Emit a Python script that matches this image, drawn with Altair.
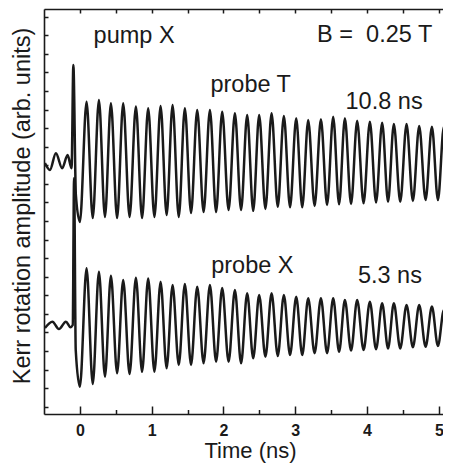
import altair as alt
import pandas as pd

# ---------------- data ----------------
# times (ns) of the oscillation maxima and minima (shared by both traces)
peak_t = [0.093, 0.265, 0.432, 0.603, 0.780, 0.951, 1.124, 1.291, 1.462, 1.634,
          1.811, 1.982, 2.159, 2.330, 2.497, 2.670, 2.841, 3.013, 3.180, 3.357,
          3.528, 3.691, 3.862, 4.039, 4.210, 4.373, 4.550, 4.726, 4.903, 5.070]
trough_t = [0.000, 0.179, 0.349, 0.518, 0.692, 0.866, 1.038, 1.208, 1.377, 1.548,
            1.723, 1.897, 2.071, 2.245, 2.414, 2.584, 2.756, 2.927, 3.097, 3.269,
            3.443, 3.610, 3.777, 3.951, 4.125, 4.292, 4.462, 4.638, 4.815, 4.987, 5.157]

# probe T trace (upper), arb. units
probeT_pre_t = [-0.487, -0.418, -0.334, -0.247, -0.171, -0.116, -0.091, -0.056]
probeT_pre_v = [13.12, 12.75, 13.65, 12.84, 13.55, 12.84, 18.40, 11.40]
probeT_peaks = [16.42, 16.52, 16.34, 16.34, 16.16, 16.07, 16.19, 16.25, 16.07, 15.98,
                15.98, 15.89, 15.80, 15.71, 15.71, 15.80, 15.65, 15.53, 15.44, 15.48,
                15.62, 15.53, 15.40, 15.35, 15.29, 15.22, 15.22, 15.12, 15.08, 15.08]
probeT_troughs = [9.95, 10.16, 10.22, 10.16, 10.22, 10.16, 10.22, 10.32, 10.22, 10.43,
                  10.48, 10.48, 10.59, 10.59, 10.55, 10.65, 10.77, 10.74, 10.74, 10.81,
                  10.86, 10.90, 10.92, 10.95, 10.99, 11.04, 11.04, 11.08, 11.13, 11.13, 11.13]

# probe X trace (lower), arb. units
probeX_pre_t = [-0.487, -0.383, -0.292, -0.195, -0.132, -0.100, -0.081, -0.058]
probeX_pre_v = [4.24, 4.58, 4.18, 4.58, 4.28, 4.40, 12.32, 3.05]
probeX_peaks = [7.45, 7.27, 7.05, 6.82, 6.95, 6.91, 6.73, 6.55, 6.61, 6.46,
                6.55, 6.39, 6.28, 6.11, 6.02, 6.11, 6.02, 5.92, 5.84, 5.84,
                5.84, 5.75, 5.75, 5.65, 5.57, 5.57, 5.48, 5.48, 5.39, 5.21]
probeX_troughs = [1.08, 1.22, 1.62, 1.80, 1.76, 1.88, 1.88, 2.07, 2.25, 2.25,
                  2.34, 2.42, 2.42, 2.34, 2.61, 2.69, 2.73, 2.78, 2.78, 2.88,
                  2.88, 2.96, 3.02, 3.05, 3.09, 3.14, 3.14, 3.20, 3.23, 3.27, 3.32]

# annotations
ann_text = ["pump X", "B =\u00a0 0.25 T", "probe T", "10.8 ns", "probe X", "5.3 ns"]
ann_t = [0.755, 4.106, 2.379, 4.237, 2.402, 4.318]
ann_v = [19.57, 19.66, 16.96, 16.01, 7.22, 6.65]

x_ticks = [0, 1, 2, 3, 4, 5]
x_minor = [0.5, 1.5, 2.5, 3.5, 4.5]
x_top = [0, 0.5, 1, 1.5, 2, 2.5, 3, 3.5, 4, 4.5, 5]
y_ticks = list(range(22))
x_domain = [-0.5, 5.169]
y_domain = [-0.393, 21.417]

# ---------------- build tables ----------------
def trace(pre_t, pre_v, peaks, troughs):
    rows = (list(zip(pre_t, pre_v)) + list(zip(peak_t, peaks))
            + list(zip(trough_t, troughs)))
    return pd.DataFrame(rows, columns=["t", "v"]).sort_values("t")

dfT = trace(probeT_pre_t, probeT_pre_v, probeT_peaks, probeT_troughs)
dfX = trace(probeX_pre_t, probeX_pre_v, probeX_peaks, probeX_troughs)
ann = pd.DataFrame({"t": ann_t, "v": ann_v, "label": ann_text})

W, H = 407, 405
FONT = "Liberation Sans"
INK = "#1a1a1a"

xs = alt.Scale(domain=x_domain, nice=False, zero=False)
ys = alt.Scale(domain=y_domain, nice=False, zero=False)

common = dict(grid=False, tickColor=INK, tickWidth=1.5, domainColor=INK, domainWidth=1.6)

ax_bottom = alt.Axis(orient="bottom", values=x_ticks, format="d", ticks=False, tickSize=0,
                     labelFont=FONT, labelFontWeight="bold", labelFontSize=16, labelColor=INK,
                     labelPadding=8, labelFlush=False, domain=True,
                     title="Time (ns)", titleFont=FONT, titleFontSize=22, titleFontWeight="normal",
                     titleColor=INK, titleX=206, titleY=43, titleBaseline="alphabetic",
                     titleAlign="center", **common)
ax_left = alt.Axis(orient="left", ticks=False, labels=False, domain=True,
                   title="Kerr rotation amplitude (arb. units)", titleFont=FONT, titleFontSize=23.5,
                   titleFontWeight="normal", titleColor=INK, titleAngle=270, titleX=-14.5,
                   titleY=196.5, titleBaseline="alphabetic", titleAlign="center", **common)
ax_bot_major = alt.Axis(orient="top", offset=-H, values=x_ticks, tickSize=8, labels=False,
                        domain=False, title=None, **common)
ax_left_ticks = alt.Axis(orient="right", offset=-W, values=y_ticks, tickSize=4, labels=False,
                         domain=False, title=None, **common)
ax_bot_minor = alt.Axis(orient="top", offset=-H, values=x_minor, tickSize=4.5, labels=False,
                        domain=False, title=None, **common)
ax_top = alt.Axis(orient="bottom", offset=-H, values=x_top, tickSize=4, labels=False,
                  domain=True, title=None, **common)

line_kw = dict(color=INK, strokeWidth=2.5, interpolate="monotone", clip=True)

lineT = alt.Chart(dfT).mark_line(**line_kw).encode(
    x=alt.X("t:Q", scale=xs, axis=ax_bottom),
    y=alt.Y("v:Q", scale=ys, axis=ax_left),
)
lineX = alt.Chart(dfX).mark_line(**line_kw).encode(
    x=alt.X("t:Q", scale=xs, axis=ax_bot_major),
    y=alt.Y("v:Q", scale=ys, axis=ax_left_ticks),
)
text_kw = dict(font=FONT, fontSize=23.5, align="center", baseline="alphabetic", color=INK)
textA = alt.Chart(ann.iloc[:3]).mark_text(**text_kw).encode(
    x=alt.X("t:Q", scale=xs, axis=ax_bot_minor),
    y=alt.Y("v:Q", scale=ys, axis=None),
    text="label:N",
)
textB = alt.Chart(ann.iloc[3:]).mark_text(**text_kw).encode(
    x=alt.X("t:Q", scale=xs, axis=ax_top),
    y=alt.Y("v:Q", scale=ys, axis=None),
    text="label:N",
)

chart = (
    alt.layer(lineT, lineX, textA, textB)
    .resolve_axis(x="independent", y="independent")
    .properties(width=W, height=H, autosize=alt.AutoSizeParams(type="none"),
                padding={"left": 36, "top": 1, "right": -8, "bottom": 49})
    .configure_view(stroke="transparent")
    .configure(background="white")
)

chart.save("out.html", embed_options={"renderer": "svg", "actions": False})
